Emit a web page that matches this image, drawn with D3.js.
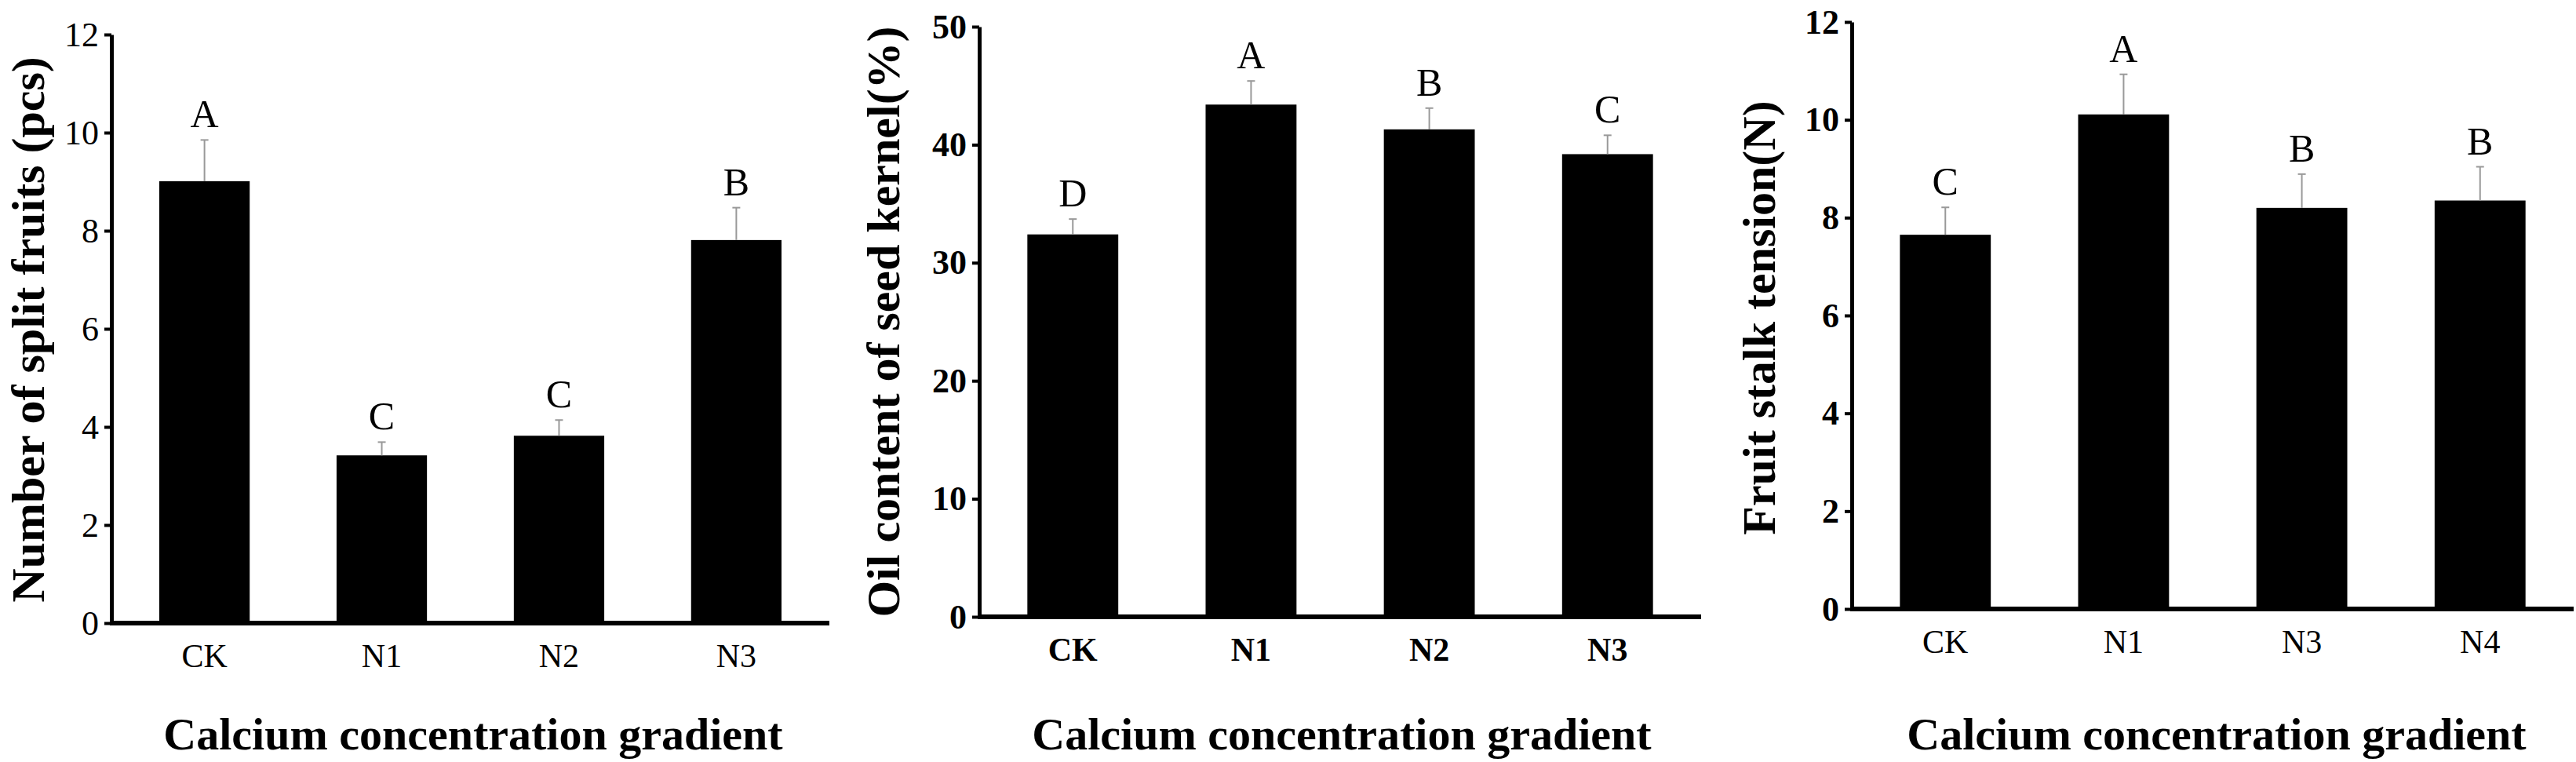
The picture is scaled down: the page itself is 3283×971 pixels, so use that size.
<!DOCTYPE html>
<html><head><meta charset="utf-8">
<script src="https://cdn.jsdelivr.net/npm/d3@7"></script>
<style>body{margin:0;background:#fff}svg{display:block}text{font-family:"Liberation Serif","Times New Roman",serif}</style>
</head><body><svg id="c" width="3283" height="971"></svg>
<script>
var cats1 = ["CK", "N1", "N2", "N3"];
var vals1 = [9.01, 3.42, 3.82, 7.81];
var errs1 = [0.84, 0.27, 0.32, 0.66];
var lets1 = ["A", "C", "C", "B"];

var cats2 = ["CK", "N1", "N2", "N3"];
var vals2 = [32.4, 43.4, 41.3, 39.2];
var errs2 = [1.3, 2.0, 1.8, 1.6];
var lets2 = ["D", "A", "B", "C"];

var cats3 = ["CK", "N1", "N3", "N4"];
var vals3 = [7.65, 10.11, 8.2, 8.35];
var errs3 = [0.56, 0.82, 0.69, 0.69];
var lets3 = ["C", "A", "B", "B"];

var svg = d3.select("#c");

function panel(o) {
  var g = svg.append("g");
  var x = d3.scaleBand().domain(o.cats).range([o.x0, o.x1]).paddingInner(0.49).paddingOuter(0.27);
  var y = d3.scaleLinear().domain([0, o.max]).range([o.y0, o.y1]);

  g.selectAll("rect.bar").data(o.vals).enter().append("rect")
    .attr("x", function(d, i) { return x(o.cats[i]); })
    .attr("y", function(d) { return y(d); })
    .attr("width", x.bandwidth())
    .attr("height", function(d) { return y(0) - y(d); })
    .attr("fill", "#000");

  var eb = g.selectAll("g.err").data(o.vals).enter().append("g").attr("stroke", "#999").attr("stroke-width", 2);
  eb.append("line")
    .attr("x1", function(d, i) { return x(o.cats[i]) + x.bandwidth() / 2; })
    .attr("x2", function(d, i) { return x(o.cats[i]) + x.bandwidth() / 2; })
    .attr("y1", function(d) { return y(d); })
    .attr("y2", function(d, i) { return y(d + o.errs[i]); });
  eb.append("line")
    .attr("x1", function(d, i) { return x(o.cats[i]) + x.bandwidth() / 2 - 5; })
    .attr("x2", function(d, i) { return x(o.cats[i]) + x.bandwidth() / 2 + 5; })
    .attr("y1", function(d, i) { return y(d + o.errs[i]); })
    .attr("y2", function(d, i) { return y(d + o.errs[i]); });

  g.selectAll("text.let").data(o.lets).enter().append("text")
    .attr("x", function(d, i) { return x(o.cats[i]) + x.bandwidth() / 2; })
    .attr("y", function(d, i) { return y(o.vals[i] + o.errs[i]) - 16; })
    .attr("text-anchor", "middle").attr("font-size", 50)
    .text(function(d) { return d; });

  // axes
  var ya = g.append("g").attr("transform", "translate(" + o.x0 + ",0)")
    .call(d3.axisLeft(y).tickValues(d3.range(0, o.max + 0.001, o.step)).tickSize(9).tickSizeOuter(0));
  ya.select(".domain").attr("stroke-width", 5);
  ya.selectAll(".tick line").attr("stroke-width", 4);
  ya.selectAll(".tick text").attr("font-size", 44).attr("font-weight", o.yBold ? "bold" : "normal")
    .attr("font-family", "Liberation Serif").attr("dx", -4);

  g.append("line").attr("x1", o.x0 - 2).attr("x2", o.x1).attr("y1", y(0)).attr("y2", y(0))
    .attr("stroke", "#000").attr("stroke-width", 6);

  g.selectAll("text.xl").data(o.cats).enter().append("text")
    .attr("x", function(d) { return x(d) + x.bandwidth() / 2; })
    .attr("y", o.y0 + 56).attr("text-anchor", "middle").attr("font-size", 42)
    .attr("font-weight", o.xBold ? "bold" : "normal")
    .text(function(d) { return d; });

  g.append("text").attr("x", o.tx).attr("y", 955).attr("text-anchor", "middle")
    .attr("font-size", 58).attr("font-weight", "bold").text("Calcium concentration gradient");

  g.append("text").attr("transform", "translate(" + o.lx + "," + o.ly + ") rotate(-90)")
    .attr("text-anchor", "middle").attr("font-size", 60).attr("font-weight", "bold").text(o.label);
}

panel({cats: cats1, vals: vals1, errs: errs1, lets: lets1, max: 12, step: 2,
  x0: 142, x1: 1057, y0: 794, y1: 44, tx: 603, lx: 56, ly: 420,
  label: "Number of split fruits (pcs)", yBold: false, xBold: false});
panel({cats: cats2, vals: vals2, errs: errs2, lets: lets2, max: 50, step: 10,
  x0: 1248, x1: 2168, y0: 786, y1: 34, tx: 1710, lx: 1146, ly: 410,
  label: "Oil content of seed kernel(%)", yBold: true, xBold: true});
panel({cats: cats3, vals: vals3, errs: errs3, lets: lets3, max: 12, step: 2,
  x0: 2360, x1: 3280, y0: 776, y1: 28, tx: 2825, lx: 2262, ly: 405,
  label: "Fruit stalk tension(N)", yBold: true, xBold: false});
</script></body></html>
